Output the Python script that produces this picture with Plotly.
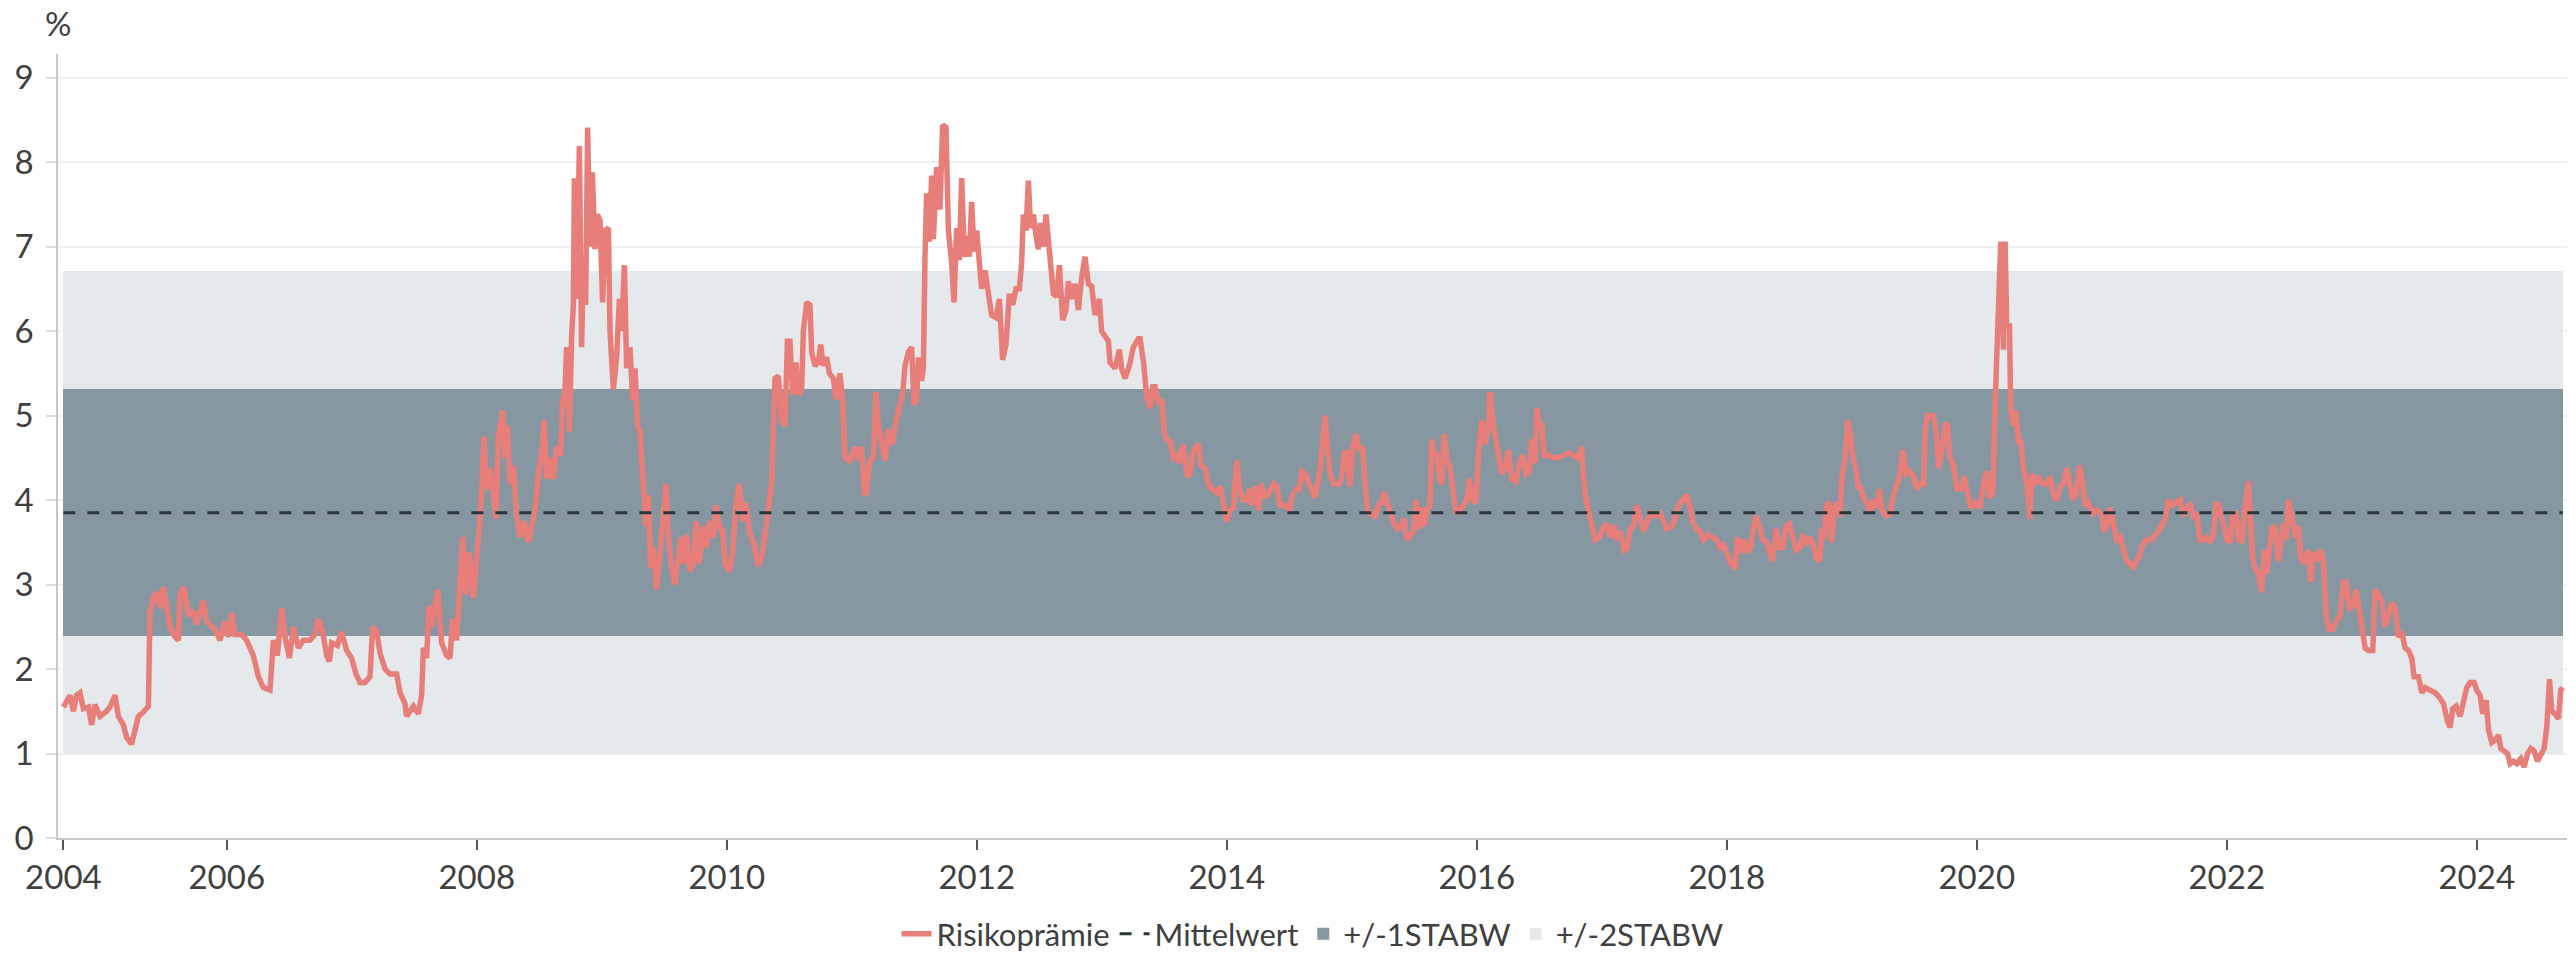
import plotly.graph_objects as go

# ---------------- data ----------------
dates = [
    2004.693, 2004.719, 2004.746, 2004.773, 2004.799, 2004.826, 2004.853, 2004.893, 2004.919, 2004.946,
    2004.986, 2005.039, 2005.066, 2005.106, 2005.133, 2005.173, 2005.199, 2005.239, 2005.266, 2005.293,
    2005.333, 2005.373, 2005.386, 2005.413, 2005.439, 2005.466, 2005.493, 2005.519, 2005.546, 2005.586,
    2005.613, 2005.626, 2005.658, 2005.693, 2005.733, 2005.759, 2005.786, 2005.813, 2005.839, 2005.879,
    2005.906, 2005.946, 2005.986, 2006.013, 2006.039, 2006.066, 2006.119, 2006.159, 2006.213, 2006.253,
    2006.293, 2006.346, 2006.373, 2006.405, 2006.439, 2006.466, 2006.501, 2006.533, 2006.573, 2006.613,
    2006.666, 2006.706, 2006.733, 2006.767, 2006.799, 2006.821, 2006.839, 2006.885, 2006.919, 2006.959,
    2006.999, 2007.034, 2007.066, 2007.106, 2007.146, 2007.167, 2007.199, 2007.226, 2007.266, 2007.306,
    2007.359, 2007.386, 2007.426, 2007.439, 2007.466, 2007.493, 2007.533,
    2007.559, 2007.573, 2007.599, 2007.618, 2007.639, 2007.666, 2007.687, 2007.719, 2007.759, 2007.786,
    2007.807, 2007.839, 2007.861, 2007.887, 2007.914, 2007.941, 2007.973, 2007.999, 2008.021, 2008.039,
    2008.058, 2008.079, 2008.106, 2008.133, 2008.154, 2008.173, 2008.207, 2008.226, 2008.245, 2008.266,
    2008.293, 2008.319, 2008.346, 2008.378, 2008.413, 2008.439, 2008.466, 2008.493, 2008.519, 2008.538,
    2008.559, 2008.586, 2008.613, 2008.639, 2008.671, 2008.687, 2008.706, 2008.719, 2008.741, 2008.759,
    2008.773, 2008.781, 2008.799, 2008.821, 2008.839, 2008.853, 2008.871, 2008.887, 2008.906, 2008.925,
    2008.946, 2008.965, 2008.986, 2009.007, 2009.026, 2009.053, 2009.066, 2009.093, 2009.119, 2009.141,
    2009.159, 2009.181, 2009.199, 2009.226, 2009.247, 2009.266, 2009.287, 2009.306, 2009.333, 2009.354,
    2009.373, 2009.391, 2009.413, 2009.439, 2009.466, 2009.487, 2009.514, 2009.533, 2009.559, 2009.586,
    2009.607, 2009.631, 2009.653, 2009.679, 2009.706, 2009.733, 2009.754, 2009.781, 2009.813, 2009.839,
    2009.866, 2009.893, 2009.914, 2009.941, 2009.967, 2009.986, 2010.021, 2010.047, 2010.074, 2010.101,
    2010.127, 2010.154, 2010.181, 2010.213, 2010.253, 2010.287, 2010.314,
    2010.359, 2010.386, 2010.413, 2010.439, 2010.466, 2010.485, 2010.506, 2010.527, 2010.554, 2010.573,
    2010.599, 2010.613, 2010.639, 2010.666, 2010.679, 2010.706, 2010.733, 2010.751, 2010.773, 2010.799,
    2010.821, 2010.853, 2010.874, 2010.906, 2010.927, 2010.946, 2010.986, 2011.026, 2011.053, 2011.079,
    2011.101, 2011.119, 2011.141, 2011.173, 2011.194, 2011.213, 2011.239, 2011.266, 2011.293, 2011.327,
    2011.354, 2011.381, 2011.407, 2011.426, 2011.453, 2011.479, 2011.498, 2011.519, 2011.533, 2011.559,
    2011.573, 2011.586, 2011.599, 2011.621, 2011.639, 2011.653, 2011.679, 2011.706, 2011.727, 2011.754,
    2011.773, 2011.799, 2011.818, 2011.839, 2011.861, 2011.879, 2011.901, 2011.925, 2011.941, 2011.959,
    2011.978, 2011.999, 2012.021, 2012.039, 2012.066, 2012.093, 2012.119, 2012.154, 2012.181, 2012.207,
    2012.234, 2012.261, 2012.287, 2012.314, 2012.341, 2012.359, 2012.373, 2012.394, 2012.413, 2012.431,
    2012.453, 2012.474, 2012.493, 2012.511, 2012.533, 2012.554, 2012.573, 2012.591, 2012.613, 2012.639,
    2012.661, 2012.687, 2012.714, 2012.733, 2012.759, 2012.786, 2012.813, 2012.839, 2012.866, 2012.893,
    2012.919, 2012.946, 2012.981, 2012.999, 2013.026, 2013.053, 2013.066, 2013.106, 2013.141, 2013.159,
    2013.186, 2013.221, 2013.253, 2013.293,
    2013.307, 2013.334, 2013.360, 2013.387, 2013.408, 2013.427, 2013.454, 2013.480, 2013.499, 2013.520,
    2013.547, 2013.574, 2013.600, 2013.622, 2013.648, 2013.667, 2013.686, 2013.707, 2013.728, 2013.755,
    2013.774, 2013.792, 2013.827, 2013.854, 2013.880, 2013.920, 2013.952, 2013.974, 2014.000, 2014.027,
    2014.054, 2014.080, 2014.102, 2014.134, 2014.160, 2014.182, 2014.200, 2014.227, 2014.254, 2014.275,
    2014.307, 2014.342, 2014.374, 2014.400, 2014.427, 2014.467, 2014.502, 2014.528, 2014.555, 2014.582,
    2014.600, 2014.627, 2014.654, 2014.680, 2014.707, 2014.734, 2014.752, 2014.774, 2014.787, 2014.806,
    2014.827, 2014.854, 2014.894, 2014.920, 2014.939, 2014.960, 2014.987, 2015.008, 2015.035, 2015.062,
    2015.088, 2015.107, 2015.126, 2015.152, 2015.187, 2015.214, 2015.240, 2015.259, 2015.286, 2015.312,
    2015.339, 2015.366, 2015.392, 2015.419, 2015.440, 2015.467, 2015.494, 2015.515, 2015.534, 2015.560,
    2015.579, 2015.600, 2015.627, 2015.640, 2015.659, 2015.680, 2015.702, 2015.720, 2015.739, 2015.760,
    2015.787, 2015.808, 2015.835, 2015.867, 2015.894, 2015.920, 2015.942, 2015.968, 2015.995, 2016.014,
    2016.040, 2016.067, 2016.094, 2016.107, 2016.134,
    2016.174, 2016.200, 2016.227, 2016.254, 2016.280, 2016.315, 2016.342, 2016.368, 2016.395, 2016.422,
    2016.440, 2016.467, 2016.480, 2016.502, 2016.520, 2016.539, 2016.574, 2016.614, 2016.654, 2016.694,
    2016.734, 2016.774, 2016.814, 2016.840, 2016.854, 2016.875, 2016.894, 2016.920, 2016.947, 2016.982,
    2017.008, 2017.040, 2017.067, 2017.099, 2017.120, 2017.147, 2017.179, 2017.206, 2017.227, 2017.254,
    2017.280, 2017.307, 2017.334, 2017.360, 2017.387, 2017.427, 2017.467, 2017.494, 2017.520, 2017.560,
    2017.587, 2017.614, 2017.648, 2017.680, 2017.707, 2017.728, 2017.755, 2017.787, 2017.814, 2017.854,
    2017.888, 2017.920, 2017.947, 2017.974, 2018.000, 2018.032, 2018.067, 2018.086, 2018.112, 2018.139,
    2018.166, 2018.192, 2018.214, 2018.235, 2018.262, 2018.288, 2018.320, 2018.347, 2018.368, 2018.395,
    2018.422, 2018.448, 2018.475, 2018.502, 2018.528, 2018.555, 2018.587, 2018.608, 2018.635, 2018.667,
    2018.694, 2018.715, 2018.742, 2018.760, 2018.779, 2018.800, 2018.822, 2018.840, 2018.859, 2018.886,
    2018.907, 2018.920, 2018.947, 2018.966, 2018.987, 2019.008, 2019.035, 2019.054,
    2019.067, 2019.094, 2019.120, 2019.147, 2019.174, 2019.200, 2019.222, 2019.240, 2019.275, 2019.307,
    2019.334, 2019.360, 2019.387, 2019.408, 2019.435, 2019.467, 2019.494, 2019.520, 2019.547, 2019.574,
    2019.587, 2019.606, 2019.627, 2019.654, 2019.675, 2019.694, 2019.720, 2019.747, 2019.766, 2019.787,
    2019.814, 2019.840, 2019.872, 2019.899, 2019.926, 2019.952, 2019.987, 2020.027, 2020.054, 2020.080,
    2020.102, 2020.128, 2020.147, 2020.166, 2020.182, 2020.192, 2020.214, 2020.227, 2020.240, 2020.262,
    2020.272, 2020.294, 2020.312, 2020.334, 2020.352, 2020.374, 2020.400, 2020.427, 2020.440, 2020.467,
    2020.494, 2020.528, 2020.560, 2020.587, 2020.614, 2020.640, 2020.667, 2020.694, 2020.720, 2020.747,
    2020.768, 2020.795, 2020.822, 2020.848, 2020.867, 2020.894, 2020.928, 2020.960, 2021.000, 2021.019,
    2021.046, 2021.067, 2021.094, 2021.120, 2021.147, 2021.174, 2021.200, 2021.227, 2021.254, 2021.280,
    2021.302, 2021.328, 2021.360, 2021.400, 2021.427, 2021.454, 2021.480, 2021.507, 2021.534, 2021.560,
    2021.595, 2021.627, 2021.654, 2021.680, 2021.707, 2021.734, 2021.760, 2021.787, 2021.814, 2021.840,
    2021.867, 2021.894, 2021.915, 2021.934,
    2021.947, 2021.974, 2022.000, 2022.027, 2022.048, 2022.075, 2022.094, 2022.120, 2022.147, 2022.174,
    2022.187, 2022.208, 2022.227, 2022.254, 2022.280, 2022.299, 2022.320, 2022.342, 2022.360, 2022.387,
    2022.414, 2022.432, 2022.454, 2022.475, 2022.494, 2022.520, 2022.547, 2022.574, 2022.592, 2022.619,
    2022.654, 2022.672, 2022.694, 2022.720, 2022.747, 2022.774, 2022.795, 2022.822, 2022.848, 2022.875,
    2022.907, 2022.934, 2022.955, 2022.982, 2023.014, 2023.035, 2023.062, 2023.088, 2023.107, 2023.134,
    2023.168, 2023.187, 2023.214, 2023.240, 2023.267, 2023.294, 2023.320, 2023.347, 2023.374, 2023.400,
    2023.427, 2023.454, 2023.480, 2023.499, 2023.534, 2023.560, 2023.587, 2023.627, 2023.667, 2023.702,
    2023.734, 2023.766, 2023.787, 2023.808, 2023.835, 2023.867, 2023.899, 2023.920, 2023.947, 2023.979,
    2024.000, 2024.027, 2024.048, 2024.075, 2024.094, 2024.120, 2024.147, 2024.174, 2024.192, 2024.219,
    2024.246, 2024.267, 2024.294, 2024.320, 2024.352, 2024.379, 2024.406, 2024.432, 2024.459, 2024.486,
    2024.512, 2024.539, 2024.560, 2024.582, 2024.600, 2024.627, 2024.654, 2024.672, 2024.688,
]

risk_premium = [
    1.55, 1.62, 1.69, 1.50, 1.69, 1.72, 1.53, 1.55, 1.34, 1.58,
    1.44, 1.50, 1.55, 1.69, 1.44, 1.34, 1.19, 1.11, 1.25, 1.44,
    1.49, 1.56, 2.69, 2.84, 2.91, 2.72, 2.97, 2.69, 2.50, 2.38,
    2.34, 2.88, 2.97, 2.63, 2.69, 2.53, 2.69, 2.81, 2.56, 2.50,
    2.47, 2.34, 2.56, 2.38, 2.66, 2.41, 2.41, 2.34, 2.16, 1.91,
    1.78, 1.75, 2.34, 2.16, 2.72, 2.38, 2.13, 2.50, 2.25, 2.34,
    2.34, 2.41, 2.59, 2.44, 2.16, 2.09, 2.31, 2.28, 2.44, 2.22,
    2.13, 1.94, 1.84, 1.84, 1.91, 2.50, 2.44, 2.19, 2.00, 1.94,
    1.94, 1.72, 1.59, 1.44, 1.50, 1.56, 1.47,
    1.69, 2.25, 2.13, 2.75, 2.50, 2.75, 2.94, 2.31, 2.16, 2.13,
    2.59, 2.34, 3.03, 3.56, 2.88, 3.38, 2.84, 3.25, 3.69, 4.06,
    4.75, 4.13, 4.38, 4.06, 3.78, 4.75, 5.06, 4.50, 4.88, 4.19,
    4.41, 3.81, 3.56, 3.75, 3.50, 3.69, 3.88, 4.31, 4.56, 4.94,
    4.25, 4.50, 4.25, 4.63, 4.53, 5.16, 5.31, 5.81, 4.81, 5.94,
    6.31, 7.81, 6.38, 8.19, 5.81, 6.88, 6.31, 8.41, 7.00, 7.88,
    6.97, 7.38, 7.31, 6.34, 7.19, 7.22, 6.00, 5.31, 5.69, 6.38,
    6.00, 6.78, 5.56, 5.81, 5.19, 5.56, 4.88, 4.81, 4.19, 3.69,
    4.06, 3.19, 3.44, 2.94, 3.38, 3.69, 4.19, 3.56, 3.19, 3.00,
    3.25, 3.56, 3.25, 3.59, 3.16, 3.25, 3.75, 3.25, 3.69, 3.44,
    3.75, 3.56, 3.94, 3.69, 3.63, 3.25, 3.16, 3.38, 3.94, 4.19,
    3.75, 3.97, 3.63, 3.50, 3.22, 3.38, 3.69,
    4.19, 5.44, 5.47, 4.94, 4.88, 5.88, 5.88, 5.25, 5.63, 5.25,
    5.31, 6.00, 6.34, 6.31, 5.75, 5.59, 5.63, 5.84, 5.59, 5.69,
    5.50, 5.44, 5.19, 5.50, 5.16, 4.50, 4.47, 4.63, 4.47, 4.63,
    4.06, 4.09, 4.44, 4.50, 5.28, 4.88, 4.63, 4.47, 4.84, 4.66,
    4.94, 5.13, 5.25, 5.59, 5.75, 5.81, 5.13, 5.19, 5.69, 5.41,
    5.56, 6.88, 7.63, 7.06, 7.84, 7.09, 7.94, 7.44, 8.44, 8.41,
    7.19, 6.81, 6.34, 7.22, 6.84, 7.81, 6.88, 7.13, 6.88, 7.53,
    6.94, 7.19, 6.88, 6.50, 6.72, 6.44, 6.19, 6.16, 6.38, 5.66,
    5.84, 6.44, 6.31, 6.50, 6.50, 6.81, 7.38, 7.19, 7.78, 7.22,
    7.38, 7.13, 6.97, 7.28, 7.00, 7.38, 7.06, 6.75, 6.44, 6.41,
    6.78, 6.13, 6.25, 6.59, 6.38, 6.56, 6.25, 6.63, 6.88, 6.56,
    6.53, 6.19, 6.38, 6.00, 5.94, 5.88, 5.63, 5.56, 5.78, 5.56,
    5.44, 5.59, 5.81, 5.91,
    5.91, 5.63, 5.22, 5.09, 5.34, 5.34, 5.13, 5.19, 4.81, 4.72,
    4.69, 4.50, 4.53, 4.44, 4.66, 4.47, 4.28, 4.31, 4.56, 4.63,
    4.66, 4.41, 4.38, 4.19, 4.13, 4.09, 4.16, 3.94, 3.75, 3.88,
    3.91, 4.47, 4.13, 4.00, 4.00, 4.13, 3.94, 4.16, 3.88, 4.19,
    4.03, 4.09, 4.19, 4.16, 3.94, 3.94, 3.88, 4.06, 4.13, 4.13,
    4.34, 4.31, 4.22, 4.16, 4.03, 4.25, 4.44, 4.81, 5.00, 4.63,
    4.31, 4.19, 4.19, 4.25, 4.56, 4.56, 4.16, 4.63, 4.78, 4.59,
    4.63, 4.19, 3.88, 3.84, 3.81, 3.94, 3.97, 4.09, 3.94, 3.84,
    3.72, 3.66, 3.69, 3.78, 3.53, 3.59, 3.63, 4.00, 3.66, 3.91,
    3.69, 3.88, 3.94, 4.72, 4.53, 4.56, 4.25, 4.19, 4.78, 4.50,
    4.38, 4.13, 3.84, 3.88, 3.94, 4.00, 4.25, 4.00, 3.97, 4.56,
    4.94, 4.66, 4.88, 5.28, 4.88,
    4.50, 4.31, 4.38, 4.59, 4.25, 4.22, 4.44, 4.53, 4.31, 4.34,
    4.72, 4.44, 5.09, 4.88, 4.91, 4.53, 4.53, 4.50, 4.50, 4.53,
    4.56, 4.53, 4.49, 4.63, 4.25, 4.00, 3.88, 3.75, 3.53, 3.56,
    3.66, 3.72, 3.56, 3.70, 3.53, 3.63, 3.41, 3.44, 3.66, 3.69,
    3.94, 3.78, 3.63, 3.72, 3.84, 3.81, 3.84, 3.75, 3.66, 3.69,
    3.78, 3.94, 4.00, 4.06, 3.91, 3.75, 3.66, 3.63, 3.53, 3.59,
    3.56, 3.53, 3.44, 3.47, 3.38, 3.25, 3.19, 3.56, 3.38, 3.53,
    3.38, 3.44, 3.66, 3.81, 3.69, 3.53, 3.50, 3.34, 3.28, 3.66,
    3.44, 3.44, 3.69, 3.72, 3.56, 3.41, 3.44, 3.59, 3.47, 3.56,
    3.47, 3.31, 3.28, 3.66, 3.53, 3.94, 3.97, 3.50, 3.88, 3.97,
    3.81, 4.25, 4.50, 4.94, 4.81, 4.53, 4.34, 4.13,
    4.16, 4.03, 3.97, 3.84, 4.00, 3.91, 4.13, 3.88, 3.81, 3.84,
    4.06, 4.19, 4.31, 4.59, 4.31, 4.34, 4.28, 4.13, 4.19, 4.19,
    4.81, 5.00, 5.00, 5.00, 4.81, 4.38, 4.56, 4.91, 4.88, 4.50,
    4.41, 4.13, 4.13, 4.28, 4.09, 3.91, 3.97, 3.91, 4.19, 4.34,
    4.03, 4.09, 5.13, 6.06, 6.72, 7.06, 5.78, 7.06, 6.06, 6.06,
    5.06, 4.88, 5.06, 4.69, 4.69, 4.38, 4.19, 3.78, 4.31, 4.19,
    4.28, 4.19, 4.19, 4.28, 4.06, 4.00, 4.16, 4.19, 4.38, 4.19,
    4.03, 4.06, 4.41, 4.19, 3.94, 3.97, 3.84, 3.88, 3.84, 3.63,
    3.72, 3.91, 3.69, 3.53, 3.56, 3.44, 3.28, 3.25, 3.19, 3.28,
    3.34, 3.47, 3.53, 3.53, 3.59, 3.66, 3.69, 3.78, 4.00, 3.94,
    3.97, 4.00, 3.81, 3.88, 3.97, 3.81, 3.84, 3.53, 3.53, 3.56,
    3.50, 3.59, 3.97, 3.94,
    3.88, 3.72, 3.53, 3.50, 3.84, 3.84, 3.53, 3.50, 3.94, 4.22,
    3.81, 3.31, 3.19, 3.13, 2.91, 3.41, 3.13, 3.38, 3.66, 3.69,
    3.28, 3.47, 3.72, 3.53, 4.00, 3.81, 3.56, 3.69, 3.31, 3.25,
    3.41, 3.03, 3.38, 3.28, 3.41, 3.28, 2.63, 2.47, 2.47, 2.56,
    2.63, 3.03, 3.03, 2.72, 2.75, 2.94, 2.69, 2.50, 2.25, 2.22,
    2.22, 2.94, 2.88, 2.81, 2.50, 2.66, 2.78, 2.72, 2.38, 2.44,
    2.25, 2.22, 2.13, 1.91, 1.91, 1.72, 1.78, 1.75, 1.72, 1.66,
    1.59, 1.38, 1.31, 1.53, 1.56, 1.44, 1.66, 1.78, 1.84, 1.84,
    1.75, 1.69, 1.47, 1.63, 1.28, 1.13, 1.16, 1.22, 1.06, 1.03,
    1.00, 0.88, 0.91, 0.88, 0.94, 0.84, 1.00, 1.06, 1.03, 0.91,
    1.00, 1.06, 1.31, 1.88, 1.50, 1.47, 1.41, 1.75, 1.78,
]

mean_value = 3.85
band_1sd = [2.39, 5.31]   # +/-1 STABW (lower, upper)
band_2sd = [0.99, 6.71]   # +/-2 STABW (lower, upper)

tick_labels = ["2004", "2006", "2008", "2010", "2012", "2014", "2016",
               "2018", "2020", "2022", "2024"]
tick_years = [dates[0]] + [int(t) for t in tick_labels[1:]]

series_names = ["Risikoprämie", "Mittelwert", "+/-1STABW", "+/-2STABW"]

# ---------------- style ----------------
FONT = "Lato, 'Noto Sans', sans-serif"
TXT = "#404040"
C_LINE = "#e87e79"
C_MEAN = "#2b363b"
C_SD1 = "#8797a1"
C_SD2 = "#e5e9ec"

x0, x1 = dates[0], dates[-1]
xmid = (x0 + x1) / 2
span = x1 - x0

fig = go.Figure()

fig.add_trace(go.Bar(
    x=[xmid], y=[band_2sd[1] - band_2sd[0]], base=[band_2sd[0]], width=[span],
    marker=dict(color=C_SD2, line=dict(width=0)), name=series_names[3],
    legendrank=4, hoverinfo="skip"))
fig.add_trace(go.Bar(
    x=[xmid], y=[band_1sd[1] - band_1sd[0]], base=[band_1sd[0]], width=[span],
    marker=dict(color=C_SD1, line=dict(width=0)), name=series_names[2],
    legendrank=3, hoverinfo="skip"))
fig.add_trace(go.Scatter(
    x=dates, y=risk_premium, mode="lines", name=series_names[0],
    line=dict(color=C_LINE, width=5.5), legendrank=1))
fig.add_trace(go.Scatter(
    x=[x0, x1], y=[mean_value, mean_value], mode="lines", name=series_names[1],
    line=dict(color=C_MEAN, width=3, dash="12px,12px"), legendrank=2))

fig.update_layout(
    width=2576, height=956,
    margin=dict(l=58, r=9, t=54, b=118),
    paper_bgcolor="white", plot_bgcolor="white",
    barmode="overlay", bargap=0,
    font=dict(family=FONT, color=TXT, size=31),
    showlegend=True,
    legend=dict(orientation="h", x=0.5, xanchor="center",
                y=0.023, yref="container", yanchor="middle",
                font=dict(size=31, color=TXT), bgcolor="rgba(0,0,0,0)",
                traceorder="normal"),
    xaxis=dict(range=[2004.65, 2024.722], tickmode="array",
               tickvals=tick_years, ticktext=tick_labels,
               showgrid=False, zeroline=False,
               showline=True, linecolor="#c8c8c8", linewidth=1.5,
               ticks="outside", ticklen=10, tickcolor="#555555", tickwidth=1.5,
               tickfont=dict(size=33, color=TXT, family=FONT)),
    yaxis=dict(range=[0, 9.28], tickmode="array",
               tickvals=list(range(0, 10)), ticktext=[str(v) for v in range(0, 10)],
               showgrid=True, gridcolor="#f0f0f0", gridwidth=1.5,
               zeroline=False, showline=True, linecolor="#c8c8c8", linewidth=1.5,
               ticks="outside", ticklen=10, tickcolor="#dddddd", tickwidth=1.5,
               ticklabelstandoff=6,
               tickfont=dict(size=33, color=TXT, family=FONT)),
    annotations=[dict(text="%", xref="paper", yref="paper", x=0, y=1.04,
                      xanchor="center", yanchor="middle", showarrow=False,
                      font=dict(size=33, color=TXT, family=FONT))],
)

fig.write_html("out.html",
               config={"displayModeBar": False},
               post_script="document.body.style.margin='0';document.body.style.overflow='hidden';")
